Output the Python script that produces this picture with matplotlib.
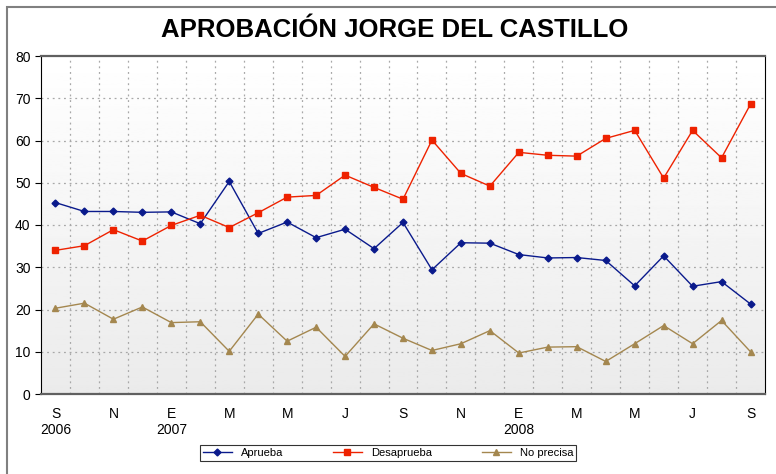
import matplotlib.pyplot as plt
import numpy as np
from matplotlib.patches import Rectangle

plt.rcParams['font.family'] = ['Liberation Sans', 'DejaVu Sans']

months = ['S', 'O', 'N', 'D', 'E', 'F', 'M', 'A', 'M', 'J', 'J', 'A',
          'S', 'O', 'N', 'D', 'E', 'F', 'M', 'A', 'M', 'J', 'J', 'A', 'S']
years = {0: '2006', 4: '2007', 16: '2008'}

aprueba = [45.3, 43.2, 43.2, 43.0, 43.1, 40.3, 50.3, 38.0, 40.7, 37.0, 39.0, 34.4,
           40.6, 29.4, 35.8, 35.7, 33.0, 32.2, 32.3, 31.6, 25.6, 32.7, 25.5, 26.6, 21.3]
desaprueba = [34.0, 35.1, 38.9, 36.2, 39.9, 42.3, 39.4, 42.9, 46.6, 47.0, 51.8, 48.9,
              46.1, 60.1, 52.2, 49.2, 57.2, 56.5, 56.3, 60.5, 62.4, 51.1, 62.4, 55.9, 68.6]
no_precisa = [20.3, 21.5, 17.7, 20.6, 16.9, 17.1, 10.1, 18.9, 12.5, 15.8, 8.9, 16.6,
              13.2, 10.3, 11.9, 15.0, 9.7, 11.1, 11.2, 7.7, 11.9, 16.2, 11.9, 17.4, 10.0]

x = np.arange(len(months))

fig = plt.figure(figsize=(7.76, 4.74), dpi=100)
# outer chart border (left and top visible)
fig.patches.append(Rectangle((7 / 776, -0.1), 1.2, (474 - 7) / 474 + 0.1,
                             transform=fig.transFigure, fill=False,
                             edgecolor='#808080', linewidth=1.5))

ax = fig.add_axes([41 / 776, 80 / 474, 724 / 776, 338 / 474])

# gradient background
grad = np.linspace(1.0, 0.92, 256).reshape(-1, 1)
ax.imshow(grad, cmap='gray', vmin=0, vmax=1, aspect='auto',
          extent=[0, 1, 0, 1], transform=ax.transAxes, zorder=0)

ax.plot(x, aprueba, '-D', color='#0a1a8c', markersize=3.5, linewidth=1,
        label='Aprueba', zorder=3)
ax.plot(x, desaprueba, '-s', color='#ee2200', markersize=5, linewidth=1,
        label='Desaprueba', zorder=3)
ax.plot(x, no_precisa, '-^', color='#a4874f', markersize=5, linewidth=1,
        label='No precisa', zorder=3)

ax.set_xlim(-0.5, len(months) - 0.5)
ax.set_ylim(0, 80)
ax.set_yticks(range(0, 81, 10))

labels = []
for i in range(0, len(months), 2):
    lab = months[i]
    if i in years:
        lab += '\n' + years[i]
    labels.append(lab)
ax.set_xticks(x[::2])
ax.set_xticklabels(labels, fontsize=10)
ax.tick_params(axis='x', length=0, pad=9)
ax.tick_params(axis='y', labelsize=10, length=4, direction='out')

for v in range(10, 80, 10):
    ax.axhline(v, color='#a8a8a8', linestyle=(0, (1.5, 3)), linewidth=0.9, zorder=1)
for v in np.arange(0.5, len(months) - 1, 1):
    ax.axvline(v, color='#a8a8a8', linestyle=(0, (1.5, 3)), linewidth=0.9, zorder=1)

ax.spines['left'].set_color('black')
ax.spines['right'].set_color('black')
ax.spines['top'].set_color('#606060')
ax.spines['bottom'].set_color('#606060')
ax.spines['top'].set_linewidth(1.6)
ax.spines['bottom'].set_linewidth(1.6)

fig.text(395 / 776, 1 - 30 / 474, 'APROBACIÓN JORGE DEL CASTILLO',
         ha='center', va='center', fontsize=18.5, fontweight='bold')

leg = fig.legend(loc='center', bbox_to_anchor=(388 / 776, 1 - 453 / 474), ncol=3,
                 fontsize=8, frameon=True, fancybox=False, edgecolor='black',
                 columnspacing=4.5, handlelength=2.6, borderpad=0.3)
leg.get_frame().set_linewidth(0.8)

plt.savefig('out.png', dpi=100)
